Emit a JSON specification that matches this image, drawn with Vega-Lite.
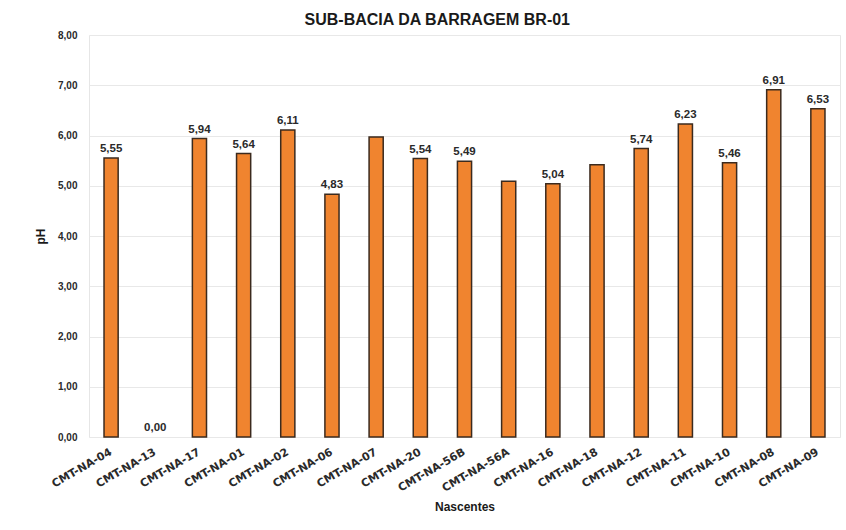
{
  "$schema": "https://vega.github.io/schema/vega-lite/v6.json",
  "autosize": {"type": "fit", "contains": "padding"},
  "width": 846,
  "height": 530,
  "padding": {"left": 34, "right": 6, "top": 12, "bottom": 17},
  "background": "white",
  "config": {
    "locale": {"number": {"decimal": ",", "thousands": ".", "grouping": [3], "currency": ["R$", ""]}},
    "font": "Liberation Sans",
    "view": {"stroke": "#e6e6e6", "strokeWidth": 1}
  },
  "title": {
    "text": "SUB-BACIA DA BARRAGEM BR-01",
    "fontSize": 16,
    "fontWeight": "bold",
    "color": "#1a1a1a",
    "anchor": "middle",
    "frame": "bounds",
    "offset": 2
  },
  "data": {
    "values": [
      {"nascente": "CMT-NA-04", "ph": 5.55, "rotulo": true},
      {"nascente": "CMT-NA-13", "ph": 0.00, "rotulo": true},
      {"nascente": "CMT-NA-17", "ph": 5.94, "rotulo": true},
      {"nascente": "CMT-NA-01", "ph": 5.64, "rotulo": true},
      {"nascente": "CMT-NA-02", "ph": 6.11, "rotulo": true},
      {"nascente": "CMT-NA-06", "ph": 4.83, "rotulo": true},
      {"nascente": "CMT-NA-07", "ph": 5.97, "rotulo": false},
      {"nascente": "CMT-NA-20", "ph": 5.54, "rotulo": true},
      {"nascente": "CMT-NA-56B", "ph": 5.49, "rotulo": true},
      {"nascente": "CMT-NA-56A", "ph": 5.09, "rotulo": false},
      {"nascente": "CMT-NA-16", "ph": 5.04, "rotulo": true},
      {"nascente": "CMT-NA-18", "ph": 5.42, "rotulo": false},
      {"nascente": "CMT-NA-12", "ph": 5.74, "rotulo": true},
      {"nascente": "CMT-NA-11", "ph": 6.23, "rotulo": true},
      {"nascente": "CMT-NA-10", "ph": 5.46, "rotulo": true},
      {"nascente": "CMT-NA-08", "ph": 6.91, "rotulo": true},
      {"nascente": "CMT-NA-09", "ph": 6.53, "rotulo": true}
    ]
  },
  "encoding": {
    "x": {
      "field": "nascente",
      "type": "nominal",
      "sort": ["CMT-NA-04", "CMT-NA-13", "CMT-NA-17", "CMT-NA-01", "CMT-NA-02", "CMT-NA-06", "CMT-NA-07", "CMT-NA-20", "CMT-NA-56B", "CMT-NA-56A", "CMT-NA-16", "CMT-NA-18", "CMT-NA-12", "CMT-NA-11", "CMT-NA-10", "CMT-NA-08", "CMT-NA-09"],
      "title": "Nascentes",
      "axis": {
        "labelAngle": -30,
        "labelAlign": "right",
        "labelBaseline": "middle",
        "labelFont": "DejaVu Sans",
        "labelFontSize": 11,
        "labelFontWeight": "bold",
        "labelColor": "#2a2a2a",
        "labelPadding": 14,
        "ticks": false,
        "domain": false,
        "titleFontSize": 12,
        "titleFontWeight": "bold",
        "titleColor": "#1a1a1a",
        "titlePadding": 8
      },
      "scale": {"paddingInner": 0.68, "paddingOuter": 0.34}
    },
    "y": {
      "field": "ph",
      "type": "quantitative",
      "title": "pH",
      "scale": {"domain": [0, 8]},
      "axis": {
        "values": [0, 1, 2, 3, 4, 5, 6, 7, 8],
        "format": ".2f",
        "labelFontSize": 10,
        "labelFontWeight": "bold",
        "labelColor": "#2a2a2a",
        "labelPadding": 12,
        "ticks": false,
        "domain": false,
        "gridColor": "#e8e8e8",
        "titleFontSize": 12,
        "titleFontWeight": "bold",
        "titleColor": "#1a1a1a",
        "titlePadding": 10
      }
    }
  },
  "layer": [
    {
      "transform": [{"filter": "datum.ph > 0"}],
      "mark": {"type": "bar", "color": "#F0842F", "stroke": "#3b2a1e", "strokeWidth": 1.5}
    },
    {
      "transform": [{"filter": "datum.rotulo"}],
      "mark": {"type": "text", "dy": -9, "fontSize": 11.5, "fontWeight": "bold", "color": "#2a2a2a"},
      "encoding": {
        "text": {"field": "ph", "type": "quantitative", "format": ".2f"}
      }
    }
  ]
}
